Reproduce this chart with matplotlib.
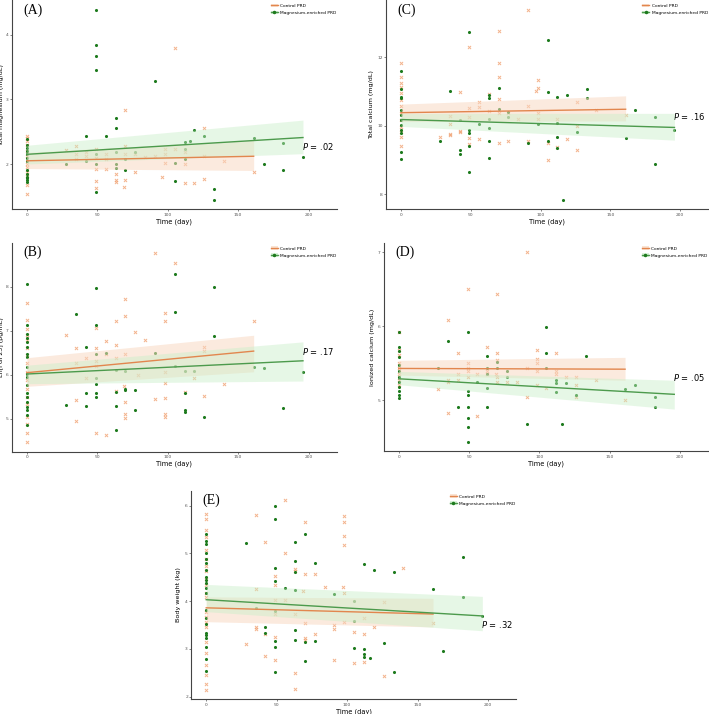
import numpy as np
import matplotlib
matplotlib.use("Agg")
import matplotlib.pyplot as plt
from matplotlib.lines import Line2D
from matplotlib.patches import Patch

# ---- colours
ORANGE_PT = '#f0a070'
ORANGE_LN = '#e2864e'
ORANGE_BAND = '#f9d9c3'
GREEN_PT = '#1d7a1d'
GREEN_LN = '#4c9a4c'
GREEN_BAND = '#c9efc9'

# ---- (A) total magnesium
a_ctrl_day = [0]*12 + [28, 35, 35, 35, 42, 42, 49, 49, 49, 49, 49, 56, 56, 56, 63, 63, 63,
                       70, 70, 70, 70, 69, 77, 77, 84, 91, 98, 98, 96, 98, 105, 105,
                       112, 112, 112, 119, 126, 126, 126, 140, 161]
a_ctrl_val = [2.43, 2.40, 2.35, 2.30, 2.20, 2.12, 2.00, 1.95, 1.88, 1.82, 1.68, 1.53,
              2.21, 2.28, 2.16, 2.07, 2.19, 2.13, 2.24, 1.92, 1.73, 1.63, 2.10, 2.16, 1.92, 2.07,
              1.85, 1.75, 1.72, 2.83, 2.28, 2.16, 1.75, 1.65, 1.87, 2.16, 2.11, 2.13,
              2.24, 2.02, 1.80, 2.16, 3.79, 2.24, 2.18, 2.00, 1.71, 1.71, 2.55, 2.12, 1.77,
              2.04, 1.87]
a_mg_day = [0]*13 + [28, 42, 42, 49, 49, 49, 49, 49, 49, 49, 56, 63, 63, 63, 63, 63, 70, 70,
                     77, 91, 105, 105, 112, 112, 112, 116, 119, 126, 133, 133, 161, 168,
                     182, 182, 196]
a_mg_val = [2.38, 2.30, 2.25, 2.20, 2.15, 2.10, 2.05, 1.90, 1.85, 1.80, 1.78, 1.75, 1.72,
            2.00, 2.43, 2.04, 4.38, 3.84, 3.67, 3.45, 2.15, 2.00, 1.56, 2.43, 2.72, 2.55,
            2.00, 1.94, 2.18, 2.07, 1.90, 2.18, 3.29, 2.02, 1.73, 2.34, 2.24, 2.07, 2.36,
            2.53, 2.43, 1.61, 1.44, 2.41, 2.00, 2.33, 1.90, 2.11]
a_fit_ctrl = [2.05, 2.12]
a_band_ctrl = [[1.93, 1.90], [2.18, 2.37]]
a_fit_mg = [2.15, 2.41]
a_band_mg = [[2.00, 2.16], [2.29, 2.68]]

# ---- (B) Ln[FGF23]
b_ctrl_day = [0]*17 + [28, 35, 35, 35, 35, 42, 42, 49, 49, 49, 49, 49, 56, 56, 56,
                       63, 63, 63, 63, 70, 70, 70, 70, 70, 70, 69, 77, 79, 84, 91, 91,
                       98, 98, 98, 98, 98, 98, 98, 105, 112, 119, 126, 126, 126, 140, 161]
b_ctrl_val = [7.64, 7.24, 7.05, 6.90, 6.79, 6.60, 6.45, 6.27, 6.07, 5.88, 5.69, 5.50, 5.35,
              5.05, 4.88, 4.68, 4.47,
              6.90, 6.61, 6.27, 5.42, 4.95, 6.38, 5.93, 7.07, 6.62, 6.32, 6.20, 4.68,
              6.77, 6.47, 4.63, 7.23, 6.67, 6.38, 5.64, 7.73, 7.33, 6.48, 5.39, 5.11, 5.03,
              5.75, 6.98, 6.00, 6.79, 8.77, 5.45, 7.41, 7.23, 6.06, 5.82, 5.48, 5.11, 5.05,
              8.55, 5.61, 5.94, 6.64, 6.55, 5.52, 5.80, 7.22]
b_mg_day = [0]*19 + [28, 35, 42, 42, 42, 49, 49, 49, 49, 49, 49, 49, 56, 63, 63, 63, 63,
                     70, 70, 70, 77, 77, 91, 105, 105, 105, 112, 112, 112, 112, 119, 126,
                     133, 133, 161, 168, 182, 196]
b_mg_val = [8.06, 7.14, 6.92, 6.83, 6.75, 6.64, 6.48, 6.41, 6.17, 6.03, 5.95, 5.78, 5.58,
            5.50, 5.38, 5.27, 5.20, 5.08, 4.86,
            5.32, 7.38, 6.64, 5.59, 5.30, 7.98, 7.13, 6.47, 5.93, 5.79, 5.58, 5.49, 6.50,
            6.11, 5.62, 5.29, 4.74, 6.09, 5.68, 5.65, 5.65, 5.21, 6.50, 8.30, 7.42, 6.20,
            6.09, 5.58, 5.21, 5.15, 6.09, 5.05, 7.99, 6.88, 6.18, 6.16, 5.24, 6.06]
b_fit_ctrl = [6.05, 6.54]
b_band_ctrl = [[5.74, 6.07], [6.39, 6.90]]
b_fit_mg = [6.02, 6.32]
b_band_mg = [[5.80, 5.86], [6.22, 6.75]]

# ---- (C) total calcium
c_ctrl_day = [0]*13 + [28, 35, 35, 35, 35, 42, 42, 42, 49, 49, 49, 49, 49, 56, 56, 56,
                       63, 63, 70, 70, 70, 70, 70, 70, 77, 77, 84, 91, 91, 91,
                       98, 98, 98, 98, 97, 105, 105, 112, 112, 119, 126, 126, 126, 140, 161]
c_ctrl_val = [11.82, 11.41, 11.23, 11.12, 10.94, 10.75, 10.57, 10.36, 10.17, 9.97, 9.83,
              9.66, 9.41,
              9.68, 10.29, 10.05, 9.75, 9.72, 10.98, 9.85, 9.83, 12.29, 10.53, 10.24, 9.63,
              9.47, 10.68, 10.55, 9.61, 10.91, 10.43, 12.77, 11.82, 11.41, 10.77, 10.36,
              9.51, 9.56, 10.36, 10.20, 13.37, 10.57, 9.56, 11.33, 11.09, 10.38, 10.21,
              11.01, 9.51, 9.00, 10.19, 9.37, 9.60, 10.70, 9.99, 9.29, 10.46, 10.32]
c_mg_day = [0]*12 + [28, 35, 42, 42, 42, 49, 49, 49, 49, 49, 56, 63, 63, 63, 63, 63, 63,
                     70, 70, 77, 77, 91, 98, 105, 105, 105, 112, 112, 112, 112, 116, 119,
                     126, 133, 133, 161, 168, 182, 182, 196]
c_mg_val = [11.60, 11.06, 10.84, 10.80, 10.46, 10.31, 10.17, 10.02, 9.87, 9.78, 9.24, 9.04,
            9.56, 11.01, 9.29, 9.17, 10.17, 12.73, 9.87, 9.80, 9.41, 8.64, 10.05, 10.89,
            10.82, 10.21, 9.92, 9.56, 9.05, 11.09, 10.50, 10.41, 10.26, 9.49, 10.05, 12.50,
            10.97, 9.56, 10.84, 10.07, 9.68, 9.36, 7.84, 10.88, 9.81, 11.06, 10.82, 9.65,
            10.45, 10.25, 8.88, 9.88]
c_fit_ctrl = [10.38, 10.48]
c_band_ctrl = [[10.12, 10.14], [10.63, 10.87]]
c_fit_mg = [10.18, 9.95]
c_band_mg = [[9.98, 9.58], [10.36, 10.36]]

# ---- (D) ionized calcium
d_ctrl_day = [0]*8 + [28, 35, 35, 35, 35, 42, 42, 42, 49, 49, 49, 49, 49, 56, 56,
                      63, 63, 63, 70, 70, 70, 70, 70, 69, 77, 84, 91, 91, 91,
                      98, 98, 98, 98, 98, 105, 112, 112, 112, 119, 126, 126, 126, 140, 161]
d_ctrl_val = [5.92, 5.68, 5.61, 5.51, 5.43, 5.36, 5.27, 5.20,
              5.15, 6.08, 5.27, 5.24, 4.83, 5.64, 5.35, 5.27, 6.51, 5.51, 5.44, 5.40, 5.32,
              5.35, 4.79, 5.72, 5.40, 5.35, 6.44, 5.64, 5.55, 5.32, 5.24, 5.35, 5.24, 5.24,
              7.00, 5.44, 5.04, 5.68, 5.56, 5.51, 5.40, 5.20, 5.16, 5.64, 5.40, 5.35, 5.32,
              5.32, 5.20, 5.04, 5.27, 5.00]
d_mg_day = [0]*12 + [28, 35, 42, 49, 49, 49, 49, 49, 49, 49, 56, 63, 63, 63, 63, 63,
                     70, 70, 77, 77, 91, 105, 105, 105, 112, 112, 112, 116, 119, 126, 133,
                     161, 168, 182, 182]
d_mg_val = [5.92, 5.72, 5.66, 5.59, 5.48, 5.39, 5.32, 5.25, 5.18, 5.12, 5.07, 5.03,
            5.44, 5.80, 4.91, 5.92, 5.12, 5.07, 4.91, 4.76, 4.64, 4.44, 5.24, 5.60, 5.44,
            5.36, 4.91, 5.16, 5.52, 5.44, 5.40, 5.32, 4.68, 5.99, 5.64, 5.44, 5.27, 5.23,
            5.11, 4.68, 5.23, 5.07, 5.60, 5.15, 5.20, 5.04, 4.91]
d_fit_ctrl = [5.43, 5.42]
d_band_ctrl = [[5.34, 5.27], [5.54, 5.58]]
d_fit_mg = [5.29, 5.08]
d_band_mg = [[5.21, 4.88], [5.39, 5.27]]

# ---- (E) body weight
e_ctrl_day = [0]*22 + [28, 35, 35, 35, 35, 42, 42, 42, 49, 49, 49, 49, 49, 49, 56, 56, 56,
                       63, 63, 63, 63, 63, 70, 70, 70, 70, 70, 69, 77, 77, 84, 91, 91, 91,
                       98, 98, 98, 98, 97, 98, 98, 105, 105, 112, 112, 112, 119, 126, 126,
                       140, 161]
e_ctrl_val = [5.82, 5.71, 5.49, 5.35, 5.07, 4.89, 4.73, 4.63, 4.47, 4.33, 4.16, 4.09, 3.78,
              3.67, 3.57, 3.46, 3.15, 2.92, 2.66, 2.45, 2.26, 2.14,
              3.11, 5.81, 4.25, 3.46, 3.41, 5.23, 3.32, 2.86, 4.52, 4.33, 4.03, 3.74, 3.25,
              2.76, 6.11, 5.01, 4.03, 4.67, 4.64, 3.73, 2.49, 2.16, 5.66, 4.57, 3.55, 3.22,
              3.18, 4.22, 4.56, 3.31, 4.30, 3.50, 3.41, 2.76, 5.79, 5.66, 5.36, 5.17, 4.30,
              4.18, 3.57, 3.35, 2.70, 3.64, 3.32, 2.73, 3.46, 3.99, 2.44, 4.70, 3.55]
e_mg_day = [0]*21 + [28, 35, 42, 42, 49, 49, 49, 49, 49, 49, 49, 49, 56, 63, 63, 63, 63,
                     63, 63, 70, 70, 70, 77, 77, 91, 105, 105, 105, 112, 112, 112, 112, 116,
                     119, 126, 133, 133, 161, 168, 182, 182, 196]
e_mg_val = [5.40, 5.26, 5.19, 5.00, 4.89, 4.80, 4.66, 4.51, 4.44, 4.37, 4.27, 4.16, 3.81,
            3.64, 3.53, 3.34, 3.29, 3.22, 3.04, 2.78, 2.54,
            5.21, 3.86, 3.46, 3.34, 6.00, 5.72, 4.70, 4.42, 3.17, 3.04, 2.52, 3.79, 4.27,
            5.23, 4.84, 4.61, 4.23, 3.40, 3.18, 5.40, 3.15, 2.75, 4.80, 3.17, 4.15, 4.00,
            3.59, 3.01, 4.77, 3.00, 2.90, 2.82, 2.80, 4.66, 3.13, 4.62, 2.52, 4.25, 2.95,
            4.92, 4.08, 3.69]
e_fit_ctrl = [3.86, 3.73]
e_band_ctrl = [[3.57, 3.46], [4.09, 4.06]]
e_fit_mg = [4.03, 3.69]
e_band_mg = [[3.78, 3.38], [4.35, 4.10]]

ctrl_end = [0, 161]
mg_end = [0, 196]


def draw_panel(ax, tag, ylabel, ctrl, mg, fits, yticks, ylim, ptext, py, ylab_x):
    ax.scatter(ctrl[0], ctrl[1], marker='x', s=5, lw=0.7, color=ORANGE_PT, alpha=0.8, zorder=2)
    ax.scatter(mg[0], mg[1], marker='o', s=5, lw=0, color=GREEN_PT, zorder=3)
    fc, bc, fm, bm = fits
    ax.fill_between(ctrl_end, bc[0], bc[1], color=ORANGE_BAND, alpha=0.55, lw=0, zorder=4)
    ax.fill_between(mg_end, bm[0], bm[1], color=GREEN_BAND, alpha=0.45, lw=0, zorder=4)
    ax.plot(ctrl_end, fc, color=ORANGE_LN, lw=1.0, zorder=5)
    ax.plot(mg_end, fm, color=GREEN_LN, lw=1.0, zorder=5)

    ax.set_xlim(-10.5, 220)
    ax.set_ylim(*ylim)
    ax.set_xticks([0, 50, 100, 150, 200])
    ax.set_yticks(yticks)
    ax.tick_params(labelsize=3.2, colors='#555555', length=1.5, width=0.5, pad=1)
    for s in ['top', 'right']:
        ax.spines[s].set_visible(False)
    for s in ['left', 'bottom']:
        ax.spines[s].set_color('#444444')
        ax.spines[s].set_linewidth(0.8)
    ax.set_xlabel('Time (day)', fontsize=4.8, labelpad=1)
    ax.set_ylabel(ylabel, fontsize=4.6)
    ax.yaxis.set_label_coords(ylab_x, 0.5)

    ax.text(0.035, 0.985, tag, transform=ax.transAxes, fontsize=10,
            family='Liberation Serif', va='top', ha='left')
    ax.text(0.99, py, ptext, transform=ax.transAxes, fontsize=6,
            va='center', ha='right')

    handles = [
        (Patch(color=ORANGE_BAND, alpha=0.7, lw=0), Line2D([], [], color=ORANGE_LN, lw=1.0)),
        (Patch(color=GREEN_BAND, alpha=0.7, lw=0),
         Line2D([], [], color=GREEN_LN, lw=1.0, marker='o', ms=1.5, mfc=GREEN_PT, mec=GREEN_PT)),
    ]
    ax.legend(handles, ['Control PRD', 'Magnesium-enriched PRD'], fontsize=3.2,
              loc='upper left', bbox_to_anchor=(0.785, 1.0), frameon=False,
              handlelength=1.6, handleheight=0.9, labelspacing=0.6, borderpad=0.3,
              handletextpad=0.5)


fig = plt.figure(figsize=(7.09, 7.14), dpi=100)

ax_a = fig.add_axes([0.017, 0.707, 0.458, 0.293])
ax_c = fig.add_axes([0.545, 0.707, 0.4535, 0.293])
ax_b = fig.add_axes([0.017, 0.367, 0.458, 0.293])
ax_d = fig.add_axes([0.5416, 0.368, 0.457, 0.292])
ax_e = fig.add_axes([0.270, 0.0206, 0.458, 0.292])

draw_panel(ax_a, '(A)', 'Total magnesium (mg/dL)', (a_ctrl_day, a_ctrl_val),
           (a_mg_day, a_mg_val), (a_fit_ctrl, a_band_ctrl, a_fit_mg, a_band_mg),
           [2, 3, 4], (1.3, 4.54), r'$P$ = .02', 0.30, -0.024)
draw_panel(ax_c, '(C)', 'Total calcium (mg/dL)', (c_ctrl_day, c_ctrl_val),
           (c_mg_day, c_mg_val), (c_fit_ctrl, c_band_ctrl, c_fit_mg, c_band_mg),
           [8, 10, 12], (7.57, 13.66), r'$P$ = .16', 0.445, -0.04)
draw_panel(ax_b, '(B)', 'Ln[FGF23] (pg/mL)', (b_ctrl_day, b_ctrl_val),
           (b_mg_day, b_mg_val), (b_fit_ctrl, b_band_ctrl, b_fit_mg, b_band_mg),
           [5, 6, 7, 8], (4.25, 9.0), r'$P$ = .17', 0.48, -0.024)
draw_panel(ax_d, '(D)', 'Ionized calcium (mg/dL)', (d_ctrl_day, d_ctrl_val),
           (d_mg_day, d_mg_val), (d_fit_ctrl, d_band_ctrl, d_fit_mg, d_band_mg),
           [5, 6, 7], (4.31, 7.13), r'$P$ = .05', 0.355, -0.027)
draw_panel(ax_e, '(E)', 'Body weight (kg)', (e_ctrl_day, e_ctrl_val),
           (e_mg_day, e_mg_val), (e_fit_ctrl, e_band_ctrl, e_fit_mg, e_band_mg),
           [2, 3, 4, 5, 6], (1.945, 6.31), r'$P$ = .32', 0.36, -0.033)

fig.savefig('out.png', dpi=100)
